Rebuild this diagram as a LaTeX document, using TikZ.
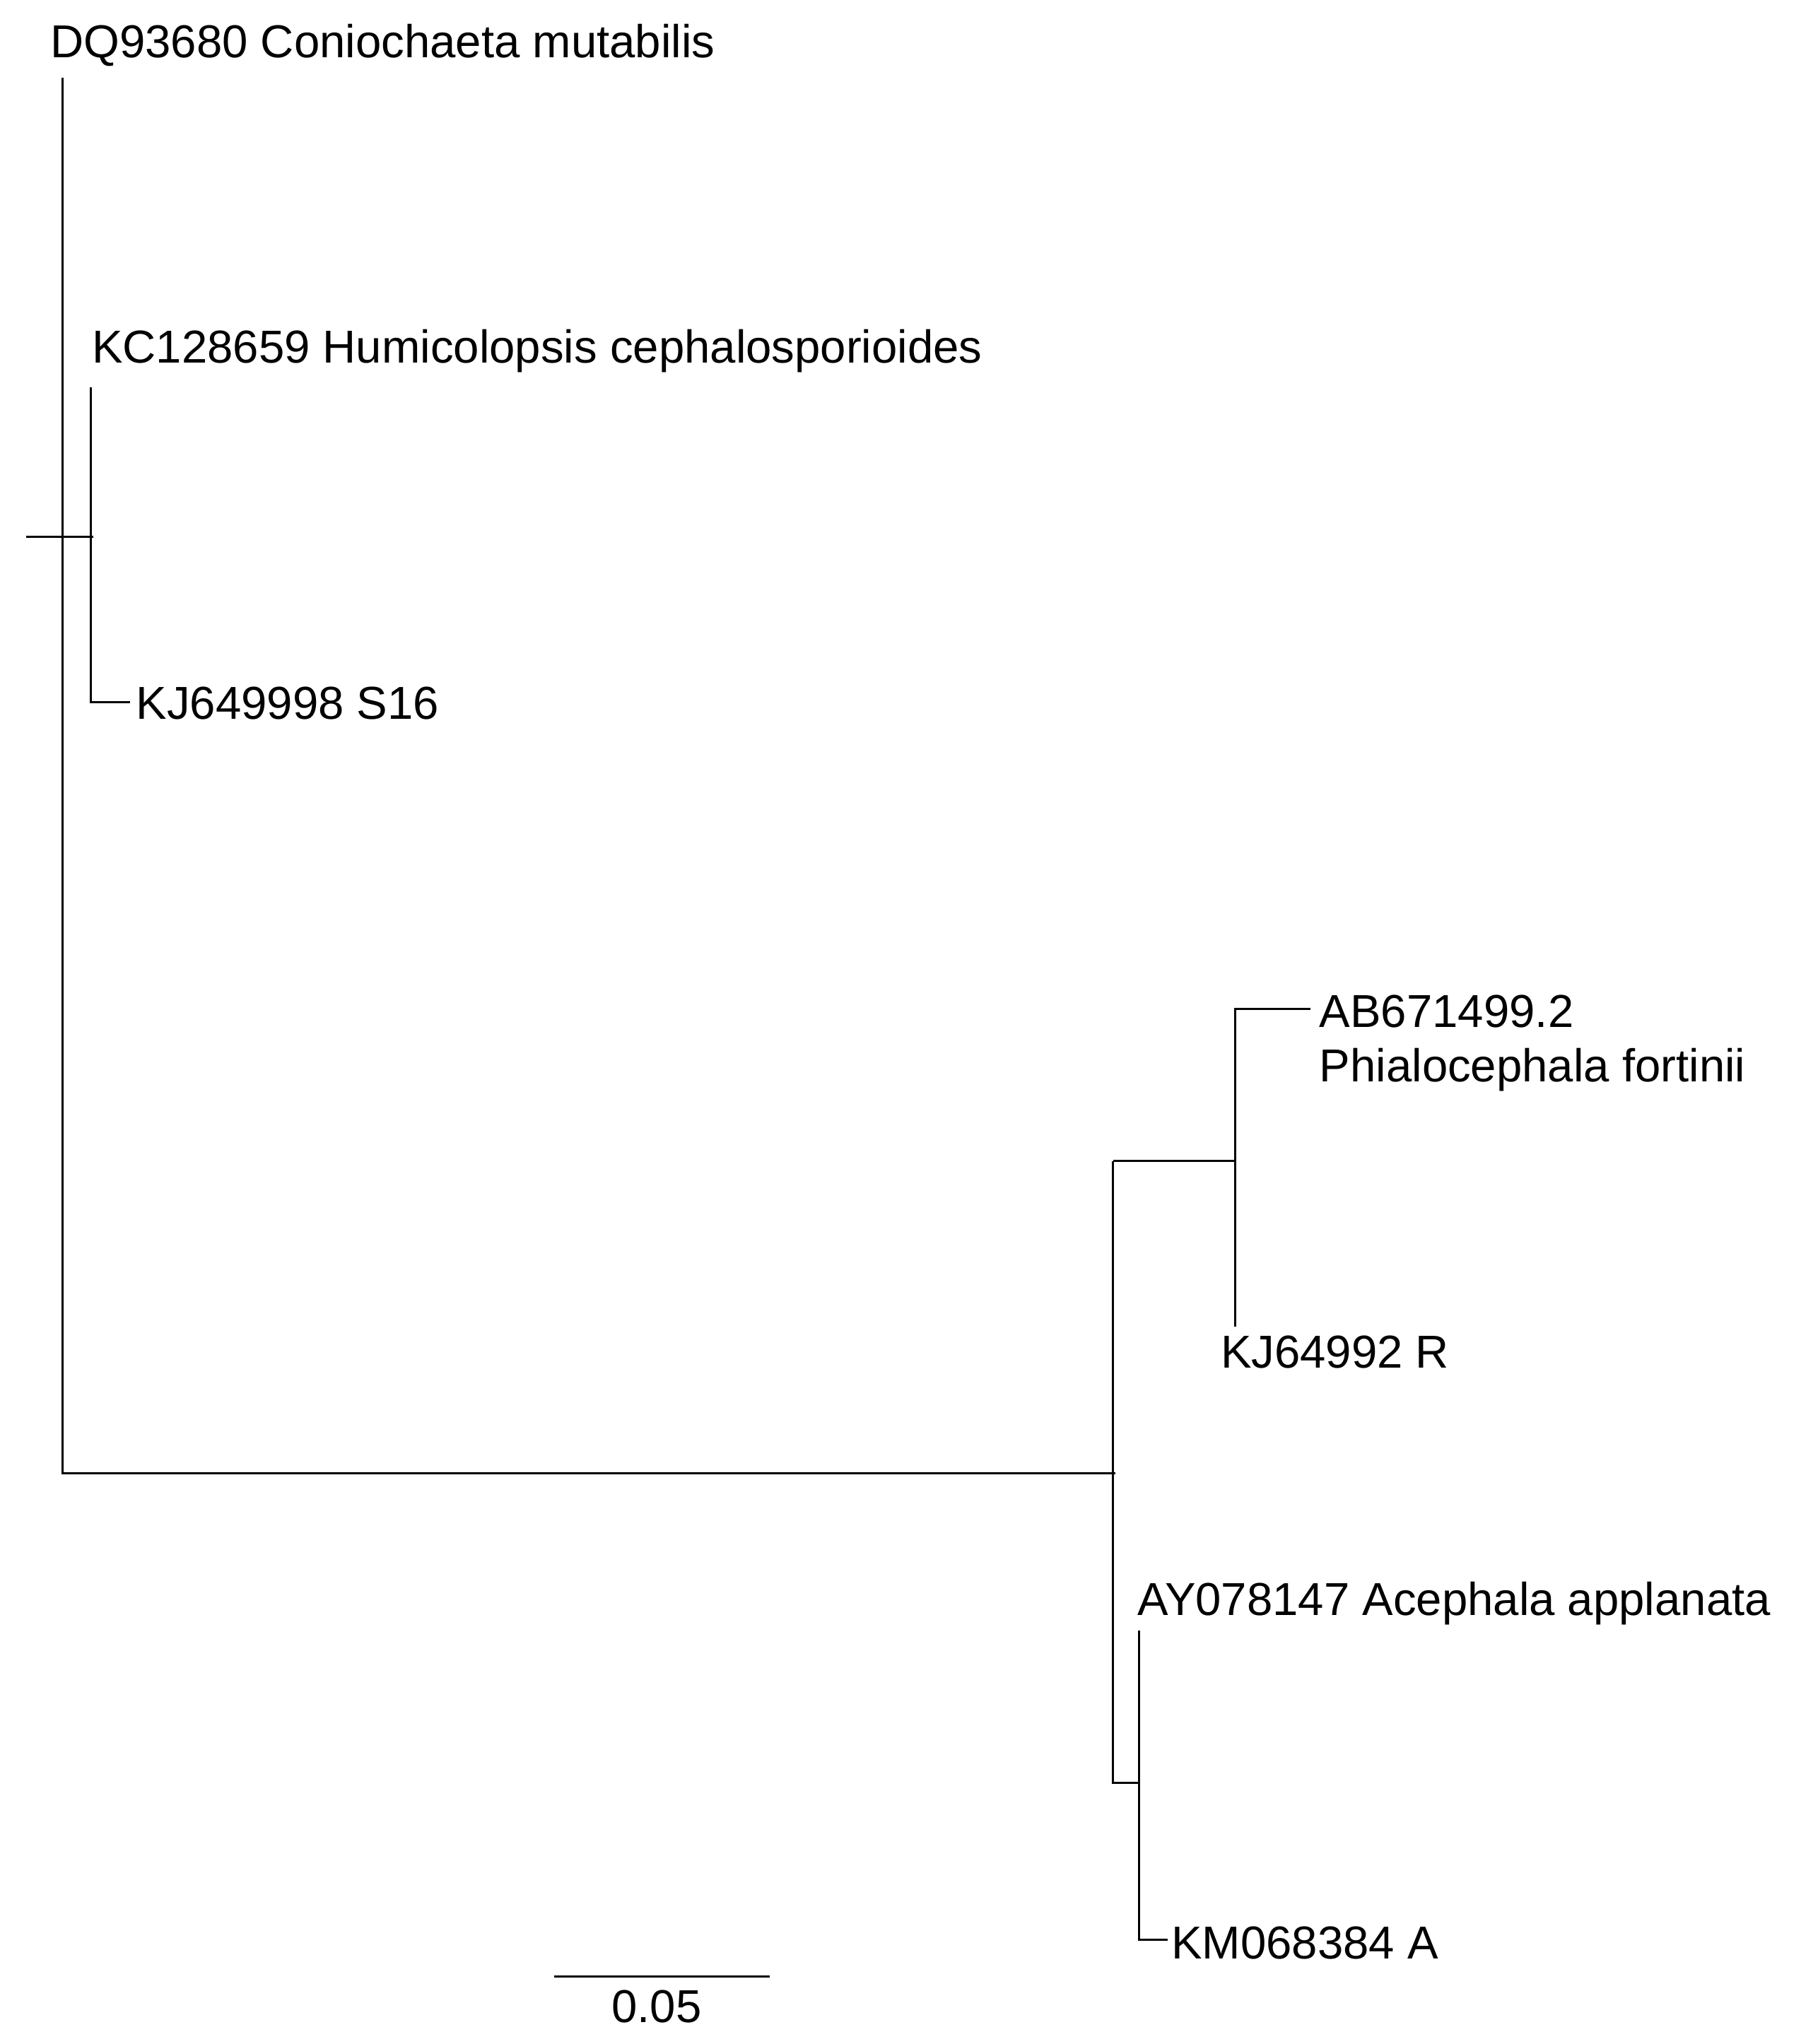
\documentclass[tikz,border=0pt]{standalone}
\usepackage{fontspec}
\setmainfont{Liberation Sans}
\begin{document}
\begin{tikzpicture}[x=1pt,y=-1pt,line width=1.5pt,
  lab/.style={anchor=west,inner sep=0pt,font=\fontsize{35.5}{40}\selectfont}]
\useasboundingbox (0,0) rectangle (1385,1572);
\node[lab] (dq) at (38,35) {DQ93680 Coniochaeta mutabilis};
\node[lab] (kc) at (70,270) {KC128659 Humicolopsis cephalosporioides};
\node[lab] (s16) at (104,541) {KJ649998 S16};
\node[lab] (ab) at (1014,778) {AB671499.2};
\node[lab] (ph) at (1014,823) {Phialocephala fortinii};
\node[lab] (r) at (938,1040) {KJ64992 R};
\node[lab] (ay) at (874,1233) {AY078147 Acephala applanata};
\node[lab] (km) at (900,1494) {KM068384 A};
\node[inner sep=0pt,font=\fontsize{35.5}{40}\selectfont] (sc) at (505,1543) {0.05};
\coordinate (rootL) at (20,413);
\coordinate (rootR) at (72,413);
\draw (rootL) -- (rootR);
\draw (48,60) -- (48,1133) -- (858,1133);
\draw (70,298) -- (70,540) -- (100,540);
\draw (856,893) -- (856,1371) -- (876,1371);
\draw (856,893) -- (950,893);
\draw (950,1020) -- (950,776) -- (1008,776);
\draw (876,1254) -- (876,1492) -- (898,1492);
\draw (426,1520) -- (592,1520);
\end{tikzpicture}
\end{document}
